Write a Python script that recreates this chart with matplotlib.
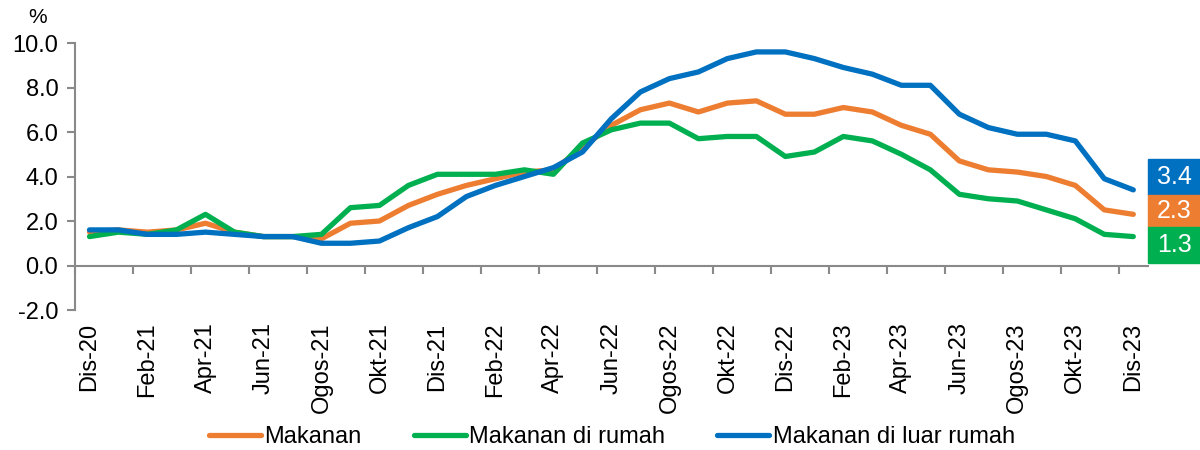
import matplotlib.pyplot as plt
from matplotlib.patches import Rectangle
import matplotlib.transforms as mtransforms

plt.rcParams['font.family'] = ['Liberation Sans', 'DejaVu Sans']

# data, Dis-20 .. Dis-23 (bulanan)
bulan = ['Dis-20', 'Jan-21', 'Feb-21', 'Mar-21', 'Apr-21', 'Mei-21', 'Jun-21', 'Jul-21',
         'Ogos-21', 'Sep-21', 'Okt-21', 'Nov-21', 'Dis-21', 'Jan-22', 'Feb-22', 'Mar-22',
         'Apr-22', 'Mei-22', 'Jun-22', 'Jul-22', 'Ogos-22', 'Sep-22', 'Okt-22', 'Nov-22',
         'Dis-22', 'Jan-23', 'Feb-23', 'Mar-23', 'Apr-23', 'Mei-23', 'Jun-23', 'Jul-23',
         'Ogos-23', 'Sep-23', 'Okt-23', 'Nov-23', 'Dis-23']

makanan = [1.5, 1.6, 1.5, 1.6, 1.9, 1.5, 1.3, 1.3, 1.2, 1.9, 2.0, 2.7, 3.2,
           3.6, 3.9, 4.2, 4.3, 5.3, 6.3, 7.0, 7.3, 6.9, 7.3, 7.4, 6.8,
           6.8, 7.1, 6.9, 6.3, 5.9, 4.7, 4.3, 4.2, 4.0, 3.6, 2.5, 2.3]
di_rumah = [1.3, 1.5, 1.4, 1.6, 2.3, 1.5, 1.3, 1.3, 1.4, 2.6, 2.7, 3.6, 4.1,
            4.1, 4.1, 4.3, 4.1, 5.5, 6.1, 6.4, 6.4, 5.7, 5.8, 5.8, 4.9,
            5.1, 5.8, 5.6, 5.0, 4.3, 3.2, 3.0, 2.9, 2.5, 2.1, 1.4, 1.3]
luar_rumah = [1.6, 1.6, 1.4, 1.4, 1.5, 1.4, 1.3, 1.3, 1.0, 1.0, 1.1, 1.7, 2.2,
              3.1, 3.6, 4.0, 4.4, 5.1, 6.6, 7.8, 8.4, 8.7, 9.3, 9.6, 9.6,
              9.3, 8.9, 8.6, 8.1, 8.1, 6.8, 6.2, 5.9, 5.9, 5.6, 3.9, 3.4]

oren = '#ED7D31'
hijau = '#00B050'
biru = '#0070C0'
abu = '#898989'

fig = plt.figure(figsize=(12, 4.5), dpi=100)
ax = fig.add_axes([0.0625, 0.3111, 0.894, 0.5933])

x = list(range(len(bulan)))
ax.plot(x, makanan, color=oren, lw=3.8, label='Makanan', solid_capstyle='round')
ax.plot(x, di_rumah, color=hijau, lw=3.8, label='Makanan di rumah', solid_capstyle='round')
ax.plot(x, luar_rumah, color=biru, lw=3.8, label='Makanan di luar rumah', solid_capstyle='round')

ax.set_xlim(-0.5, len(bulan) - 0.5)
ax.set_ylim(-2, 10)
ax.set_yticks([-2, 0, 2, 4, 6, 8, 10])
ax.set_yticklabels([f'{v:.1f}' for v in [-2, 0, 2, 4, 6, 8, 10]])

for s in ['top', 'right']:
    ax.spines[s].set_visible(False)
for s in ['left', 'bottom']:
    ax.spines[s].set_color(abu)
    ax.spines[s].set_linewidth(1.5)
ax.spines['bottom'].set_position(('data', 0))

# label tiap 2 bulan, tick di batas kategori
ax.set_xticks(x[::2])
ax.set_xticklabels(bulan[::2], rotation=90)
ax.set_xticks([i - 0.5 for i in x[::2]], minor=True)
ax.tick_params(axis='x', which='major', length=0, pad=41, labelsize=17)
ax.tick_params(axis='x', which='minor', length=6, width=1.5, color=abu, direction='out')
ax.tick_params(axis='y', length=6, width=1.5, color=abu, pad=6, labelsize=17)

fig.text(0.031, 0.962, '%', fontsize=15, ha='center', va='center')

# kotak nilai terakhir
trans = mtransforms.blended_transform_factory(ax.transAxes, ax.transData)
kotak = [(luar_rumah[-1], biru, 3.17, 1.62), (makanan[-1], oren, 1.72, 1.45), (di_rumah[-1], hijau, 0.10, 1.62)]
for val, warna, y0, tinggi in kotak:
    ax.add_patch(Rectangle((1.0, y0), 0.0494, tinggi, transform=trans, color=warna, clip_on=False))
    ax.text(1.0 + 0.0494 / 2, y0 + tinggi / 2, f'{val:.1f}', transform=trans, color='white',
            fontsize=18, ha='center', va='center')

ax.legend(loc='center', bbox_to_anchor=(0.51, 0.029), bbox_transform=fig.transFigure, ncol=3,
          frameon=False, fontsize=17, handlelength=2.2, handletextpad=0.15, columnspacing=2.2)

fig.savefig('out.png', dpi=100)
